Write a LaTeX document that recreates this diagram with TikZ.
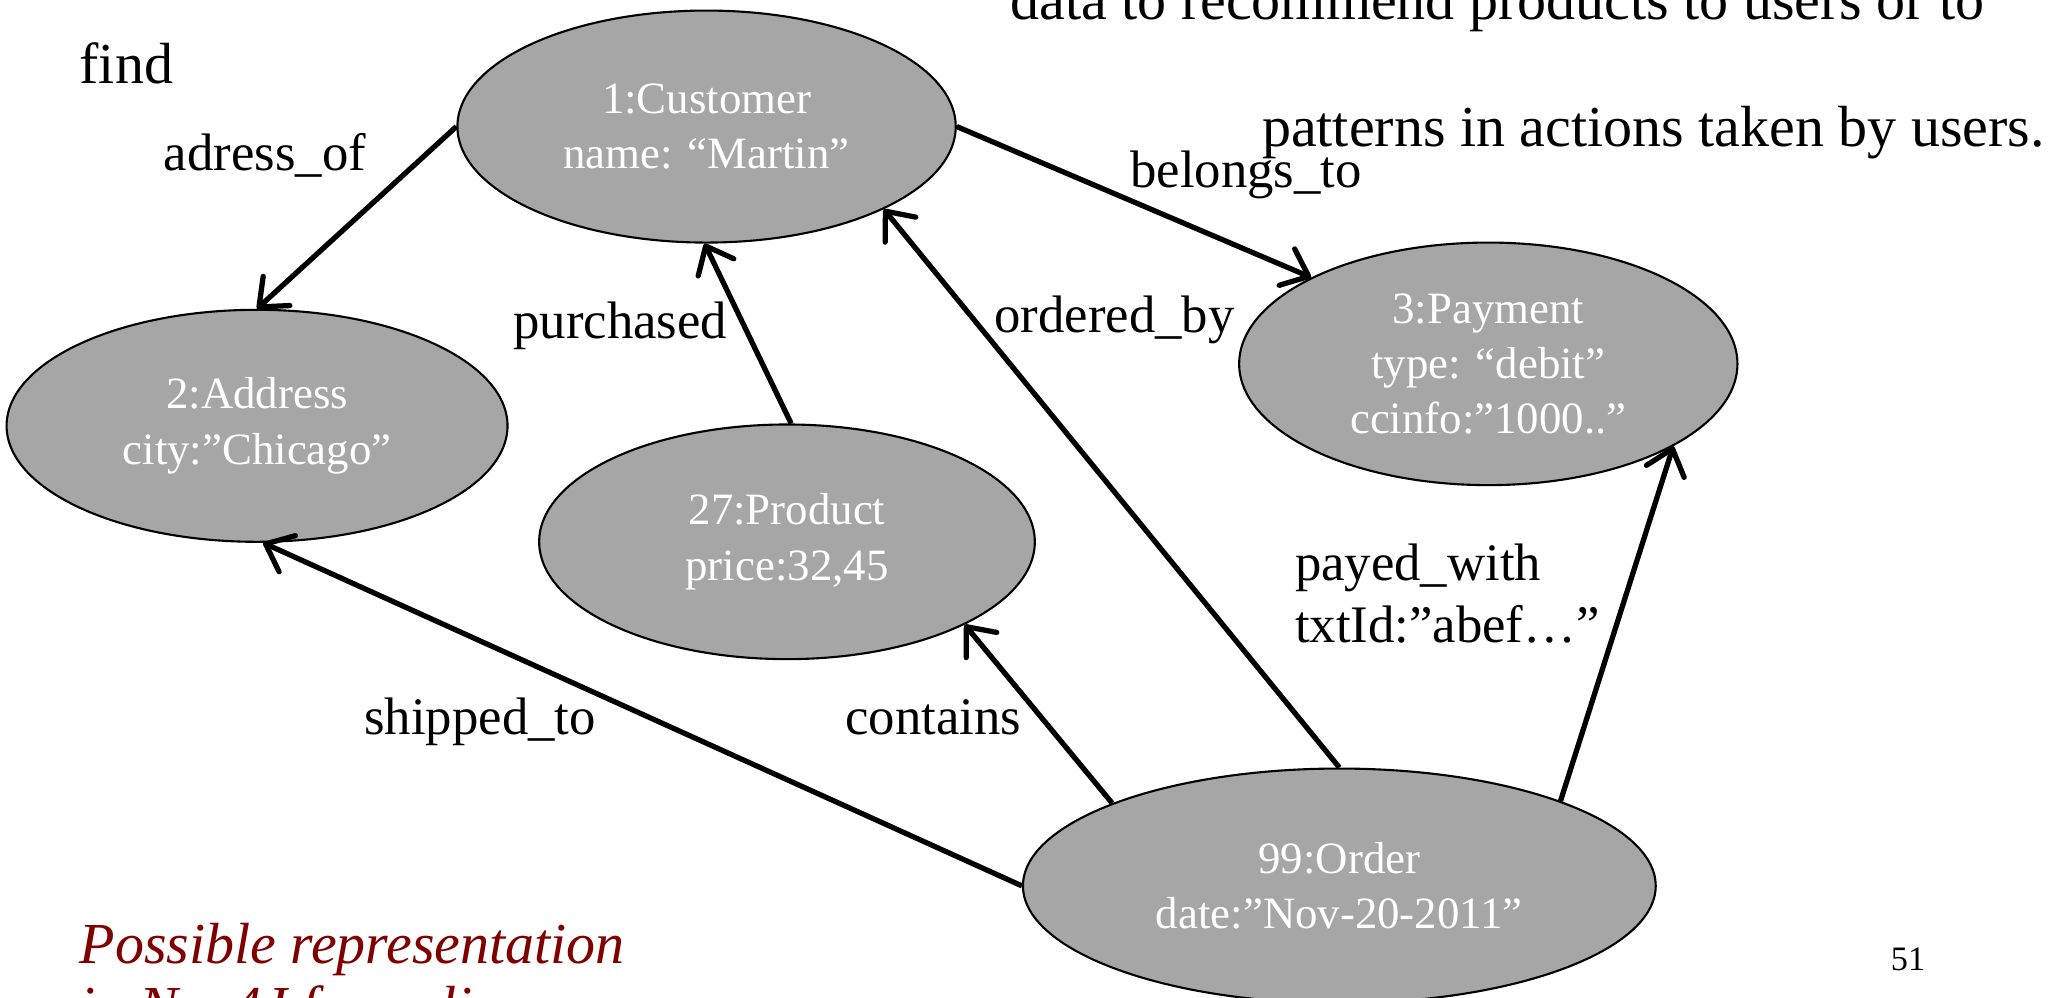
\documentclass[tikz,border=0pt]{standalone}
\usepackage{fontspec}
\setmainfont{Liberation Serif}
\usepackage{tikz}
\usetikzlibrary{shapes.geometric, arrows.meta}
\definecolor{nodegray}{RGB}{166,166,166}
\definecolor{captionred}{RGB}{128,0,0}

\begin{document}
\begin{tikzpicture}[x=0.5pt, y=-0.5pt,
		ent/.style={ellipse, draw, line width=0.8pt, fill=nodegray, text=white, inner sep=0pt, align=center, font=\fontsize{17pt}{21pt}\selectfont},
		lbl/.style={anchor=base west, inner sep=0pt, align=left, font=\fontsize{20pt}{23.5pt}\selectfont},
		big/.style={anchor=base west, inner sep=0pt, align=left, font=\fontsize{22pt}{24pt}\selectfont},
		rel/.style={line width=2pt, -{Straight Barb[length=9pt, width=15pt, round]}}]
	\useasboundingbox (0,0) rectangle (1568,757);
	\clip (0,0) rectangle (1568,757);
	\node[big] (top) at (766,15) {data to recommend products to users or to};
	\node[big] (find) at (60,63) {find};
	\node[big] (patt) at (957,111) {patterns in actions taken by users.};
	\node[ent, minimum width=189pt, minimum height=88pt] (cust) at (536,96) {1:Customer\\name: “Martin”};
	\node[ent, minimum width=190pt, minimum height=88pt] (addr) at (195,323) {2:Address\\city:”Chicago”};
	\node[ent, minimum width=189pt, minimum height=92pt] (pay) at (1129,276) {3:Payment\\type: “debit”\\ccinfo:”1000..”};
	\node[ent, minimum width=188pt, minimum height=89pt] (prod) at (597,411) {27:Product\\price:32,45};
	\node[ent, minimum width=240pt, minimum height=89pt] (ord) at (1016,672) {99:Order\\date:”Nov-20-2011”};
	\draw[rel] (cust.180) -- (addr.90);
	\draw[rel] (cust.0) -- (pay.154);
	\draw[rel] (prod.88) -- (cust.269);
	\draw[rel] (ord.90) -- (cust.335);
	\draw[rel] (ord.21) -- (pay.336);
	\draw[rel] (ord.160) -- (prod.335);
	\draw[rel] (ord.180) -- (addr.273);
	\node[lbl] (adrof) at (124,129) {adress\_of};
	\node[lbl] (belto) at (857,142) {belongs\_to};
	\node[lbl] (purch) at (389,257) {purchased};
	\node[lbl] (ordby) at (754,252) {ordered\_by};
	\node[lbl] (paywi) at (982,487) {payed\_with\\txtId:”abef…”};
	\node[lbl] (shipto) at (276,557) {shipped\_to};
	\node[lbl] (cont) at (641,557) {contains};
	\node[big, text=captionred, font=\fontsize{22pt}{24pt}\selectfont\itshape] (caption) at (60,779) {Possible representation\\in Neo4J formalism};
	\node[anchor=base west, inner sep=0pt, font=\fontsize{13pt}{15pt}\selectfont] (page) at (1434,736) {51};
\end{tikzpicture}
\end{document}
